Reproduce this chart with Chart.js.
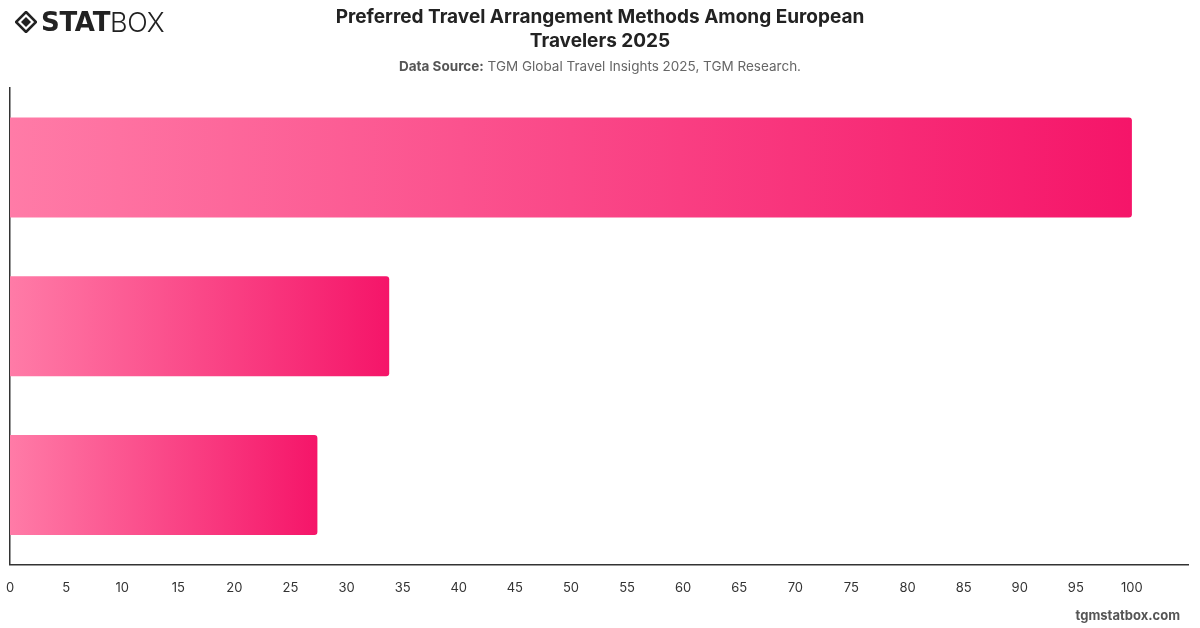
<!DOCTYPE html>
<html>
<head>
<meta charset="utf-8">
<script src="https://cdn.jsdelivr.net/npm/chart.js@4"></script>
<style>
  html, body { margin: 0; padding: 0; background: #fff; }
  body { width: 1200px; height: 628px; position: relative; overflow: hidden; font-family: Inter, "Noto Sans", sans-serif; }
  #wrap { position: absolute; left: 0; top: 0; width: 1200px; height: 628px; }
  .logo { position: absolute; left: 15px; top: 6px; display: flex; align-items: center; height: 32px; }
  .logo .stat { font-family: "DejaVu Sans", sans-serif; font-weight: 900; font-size: 26px; color: #222; letter-spacing: -0.3px; margin-left: 4px; }
  .logo .box { font-family: Inter, sans-serif; font-weight: 300; font-size: 27px; color: #222; letter-spacing: -0.3px; }
  .title { position: absolute; left: 250px; width: 700px; top: 5px; text-align: center; font-weight: 700; font-size: 19px; line-height: 24px; color: #222; }
  .source { position: absolute; left: 300px; width: 600px; top: 58px; text-align: center; font-size: 13.5px; color: #666; }
  .source b { color: #555; }
  .footer { position: absolute; right: 20px; top: 607px; font-weight: 700; font-size: 13px; color: #555; }
</style>
</head>
<body>
<div id="wrap"><canvas id="chart" width="1200" height="628"></canvas></div>
<div class="logo">
  <svg width="22" height="22" viewBox="0 0 22 22">
    <polygon points="11,1 21,11 11,21 1,11" fill="none" stroke="#222" stroke-width="2.6"/>
    <polygon points="11,6 16,11 11,16 6,11" fill="#222"/>
  </svg>
  <span class="stat">STAT</span><span class="box">BOX</span>
</div>
<div class="title">Preferred Travel Arrangement Methods Among European<br>Travelers 2025</div>
<div class="source"><b>Data Source:</b> TGM Global Travel Insights 2025, TGM Research.</div>
<div class="footer">tgmstatbox.com</div>
<script>
const categories = ["Option A", "Option B", "Option C"];
const shares = [100, 33.8, 27.4];
const tickValues = [0, 5, 10, 15, 20, 25, 30, 35, 40, 45, 50, 55, 60, 65, 70, 75, 80, 85, 90, 95, 100];

function barGradient(ctx) {
  const chart = ctx.chart;
  const xs = chart.scales.x;
  if (!chart.chartArea || !xs || ctx.dataIndex === undefined) return '#f7467f';
  const x0 = xs.getPixelForValue(0);
  const x1 = xs.getPixelForValue(ctx.raw);
  if (!isFinite(x0) || !isFinite(x1) || x1 <= x0) return '#f7467f';
  const g = chart.ctx.createLinearGradient(x0, 0, x1, 0);
  g.addColorStop(0, '#ff7ba7');
  g.addColorStop(1, '#f51569');
  return g;
}

new Chart(document.getElementById('chart'), {
  type: 'bar',
  data: {
    labels: categories,
    datasets: [{
      data: shares,
      backgroundColor: barGradient,
      borderRadius: { topRight: 3, bottomRight: 3 },
      borderSkipped: 'start',
      barPercentage: 0.9,
      categoryPercentage: 0.7
    }]
  },
  options: {
    indexAxis: 'y',
    responsive: false,
    animation: false,
    layout: { padding: { top: 88, left: 10, right: 12, bottom: 16 } },
    plugins: { legend: { display: false }, tooltip: { enabled: false } },
    scales: {
      x: {
        min: 0,
        max: 105,
        afterBuildTicks: (s) => { s.ticks = tickValues.map(v => ({ value: v })); },
        afterFit: (s) => { s.paddingLeft = 0; },
        grid: { display: false, drawTicks: false },
        border: { display: true, color: '#333', width: 1.5 },
        ticks: { color: '#333', font: { family: 'Inter', size: 13 }, padding: 16, maxRotation: 0, autoSkip: false }
      },
      y: {
        afterFit: (s) => { s.width = 0; },
        grid: { display: false, drawTicks: false },
        border: { display: true, color: '#333', width: 1.5 },
        ticks: { display: false }
      }
    }
  }
});
</script>
</body>
</html>
